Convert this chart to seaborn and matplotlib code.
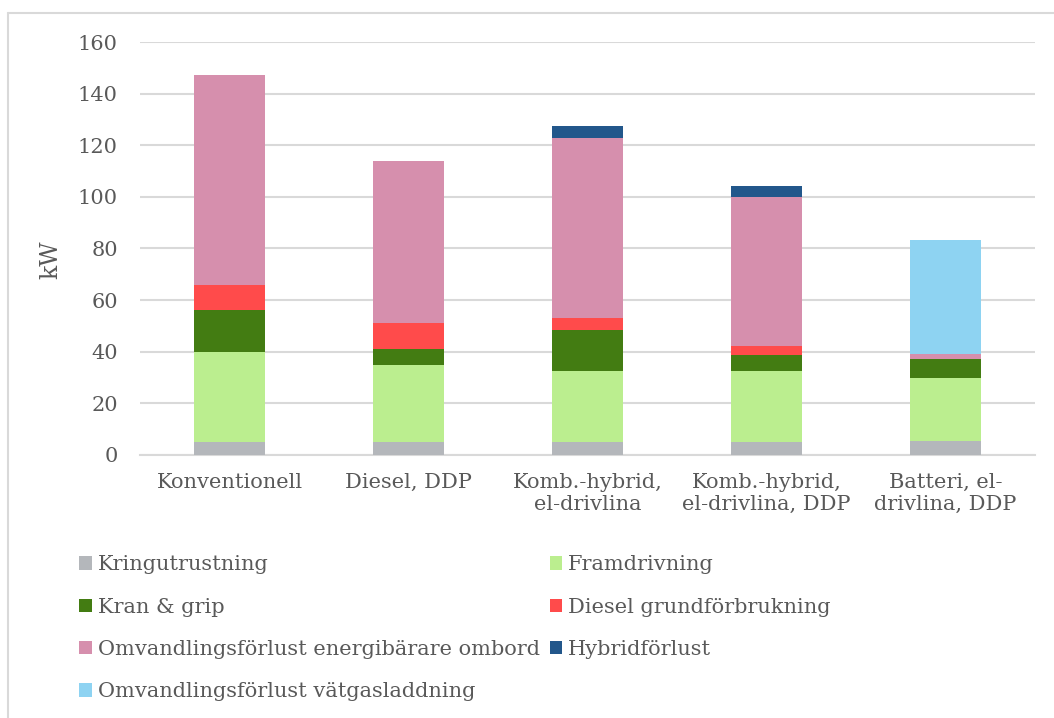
import seaborn as sns
from matplotlib import pyplot as plt
from matplotlib.patches import Patch
from matplotlib.lines import Line2D
import numpy as np

# categories (x axis)
fordon = ["Konventionell", "Diesel, DDP", "Komb.-hybrid,\nel-drivlina",
          "Komb.-hybrid,\nel-drivlina, DDP", "Batteri, el-\ndrivlina, DDP"]

# stacked components, kW
kringutrustning = [5, 5, 5, 5, 5.5]
framdrivning = [35, 30, 27.5, 27.5, 24.5]
kran_grip = [16, 6, 16, 6.3, 7.3]
diesel_grund = [10, 10, 4.5, 3.5, 0]
omv_ombord = [81.4, 63, 70, 57.7, 2]
hybridforlust = [0, 0, 4.5, 4.1, 0]
omv_vatgas = [0, 0, 0, 0, 44]

serier = ["Kringutrustning", "Framdrivning", "Kran & grip", "Diesel grundförbrukning",
          "Omvandlingsförlust energibärare ombord", "Hybridförlust",
          "Omvandlingsförlust vätgasladdning"]
varden = [kringutrustning, framdrivning, kran_grip, diesel_grund,
          omv_ombord, hybridforlust, omv_vatgas]
farger = ["#b4b7bb", "#bbee8f", "#437c12", "#ff4b4b", "#d68fad", "#22578b", "#8ed3f2"]

sns.set_style("white")
plt.rcParams['font.family'] = ['DejaVu Serif']
textfarg = "#595959"

fig = plt.figure(figsize=(10.54, 7.18), dpi=100)
ax = fig.add_axes([140 / 1054, 1 - 455 / 718, 895 / 1054, 413 / 718])

botten = np.zeros(len(fordon))
for namn, v, c in zip(serier, varden, farger):
    sns.barplot(x=fordon, y=v, bottom=botten, color=c, width=0.4, ax=ax,
                saturation=1, linewidth=0, zorder=3)
    botten = botten + np.array(v)

ax.set_ylim(0, 160)
ax.set_yticks(range(0, 161, 20))
ax.yaxis.grid(True, color="#d9d9d9", linewidth=1.5, zorder=0)
for s in ["top", "right", "left"]:
    ax.spines[s].set_visible(False)
ax.spines["bottom"].set_color("#d9d9d9")
ax.spines["bottom"].set_linewidth(1.5)
ax.tick_params(axis="both", length=0, labelsize=15, labelcolor=textfarg)
ax.tick_params(axis="y", pad=16)
ax.tick_params(axis="x", pad=13)
ax.set_ylabel("kW", fontsize=17, color=textfarg)
ax.yaxis.set_label_coords(-0.087, 0.472)

ordning = [0, 2, 4, 6, 1, 3, 5]
handtag = [Patch(facecolor=farger[i], edgecolor="none") for i in ordning]
etiketter = [serier[i] for i in ordning]
fig.legend(handtag, etiketter, loc="upper left", bbox_to_anchor=(69 / 1054, 1 - 545 / 718),
           ncol=2, frameon=False, fontsize=15, labelcolor=textfarg,
           handlelength=0.6, handleheight=0.6, handletextpad=0.3,
           labelspacing=1.12, columnspacing=0.45, borderpad=0)

# chart border (only top and left visible in the crop)
fig.add_artist(Line2D([8 / 1054, 1], [1 - 13 / 718, 1 - 13 / 718], color="#d9d9d9", lw=1.5))
fig.add_artist(Line2D([8 / 1054, 8 / 1054], [0, 1 - 13 / 718], color="#d9d9d9", lw=1.5))

fig.savefig("out.png", dpi=100)
